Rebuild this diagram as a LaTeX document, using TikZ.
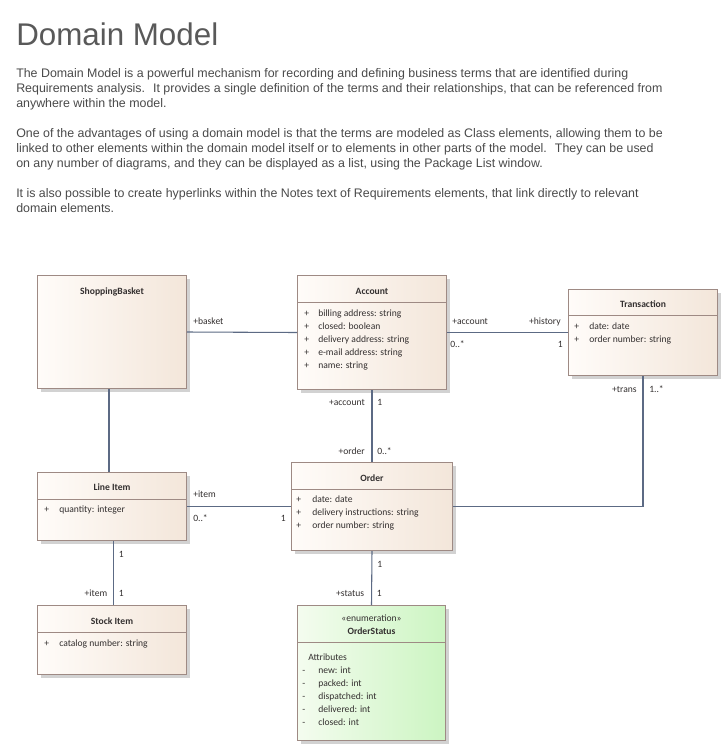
\documentclass[tikz,border=0pt]{standalone}
\usepackage{fontspec}
\setmainfont{Liberation Sans}
\newfontfamily\umlfont{Carlito}
\usetikzlibrary{positioning,calc,shadows}

\definecolor{clsborder}{HTML}{9E8A84}
\definecolor{clsleft}{HTML}{FFFCF9}
\definecolor{clsright}{HTML}{F3E6DA}
\definecolor{enumleft}{HTML}{F4FCEF}
\definecolor{enumright}{HTML}{CCF5C2}
\definecolor{clsshadow}{HTML}{D2D2D2}
\definecolor{assocline}{HTML}{5C6A84}
\definecolor{umltext}{HTML}{343030}
\definecolor{notetext}{HTML}{4A4A4A}
\definecolor{headtext}{HTML}{595959}

\tikzset{
  cls/.style 2 args={draw=clsborder, line width=0.75pt,
    left color=clsleft, right color=clsright,
    minimum width=#1*0.75pt, minimum height=#2*0.75pt,
    anchor=north west, inner sep=0pt,
    drop shadow={shadow xshift=2.4pt, shadow yshift=-2.4pt, fill=clsshadow, opacity=1}},
  enumcls/.style={left color=enumleft, right color=enumright},
  sepline/.style={draw=clsborder, line width=0.75pt},
  assoc/.style={draw=assocline, line width=0.8pt},
  clstitle/.style={font=\umlfont\fontsize{7.2}{9}\selectfont\bfseries, text=umltext, inner sep=0pt, anchor=base},
  attr/.style={font=\umlfont\fontsize{7.2}{9}\selectfont, text=umltext, inner sep=0pt, anchor=base west},
  role/.style={font=\umlfont\fontsize{7.2}{9}\selectfont, text=umltext, inner sep=0pt},
  noteline/.style={font=\fontsize{9.3}{11}\selectfont, text=notetext, inner sep=0pt, anchor=base west}
}

\begin{document}
\begin{tikzpicture}[x=0.75pt,y=-0.75pt]
  \useasboundingbox[fill=white] (0,0) rectangle (727,751);

  % Heading and notes
  \node[font=\fontsize{23.5}{28}\selectfont, text=headtext, inner sep=0pt, anchor=base west] (head) at (16,45) {Domain Model};
  \node[noteline] (n1) at (16,77) {The Domain Model is a powerful mechanism for recording and defining business terms that are identified during};
  \node[noteline] (n2) at (16,92) {Requirements analysis.~ It provides a single definition of the terms and their relationships, that can be referenced from};
  \node[noteline] (n3) at (16,107) {anywhere within the model.};
  \node[noteline] (n4) at (16,137) {One of the advantages of using a domain model is that the terms are modeled as Class elements, allowing them to be};
  \node[noteline] (n5) at (16,152) {linked to other elements within the domain model itself or to elements in other parts of the model.~ They can be used};
  \node[noteline] (n6) at (16,167) {on any number of diagrams, and they can be displayed as a list, using the Package List window.};
  \node[noteline] (n7) at (16,197) {It is also possible to create hyperlinks within the Notes text of Requirements elements, that link directly to relevant};
  \node[noteline] (n8) at (16,212) {domain elements.};

  % Classes
  \node[cls={149}{113}] (basket) at (37,275) {};
  \node[cls={149}{114}] (account) at (297,275) {};
  \node[cls={149}{86}] (trans) at (568,289) {};
  \node[cls={149}{68}] (lineitem) at (37,472) {};
  \node[cls={161}{88}] (order) at (291,462) {};
  \node[cls={149}{69}] (stock) at (37,605) {};
  \node[cls={148}{135}, enumcls] (status) at (297,605) {};

  \coordinate (bsFoot) at ($(basket.south)+(-3,0)$);
  \coordinate (liHead) at ($(lineitem.north)+(-3,0)$);
  \coordinate (liFoot) at ($(lineitem.south)+(1.5,0)$);
  \coordinate (siHead) at ($(stock.north)+(1.5,0)$);

  % Connectors
  \draw[assoc] (basket.east) -- (account.west);
  \draw[assoc] (account.east) -- (trans.west);
  \draw[assoc] (account.south) -- (order.north);
  \draw[assoc] (trans.south) |- (order.east);
  \draw[assoc] (bsFoot) -- (liHead);
  \draw[assoc] (lineitem.east) -- (order.west);
  \draw[assoc] (liFoot) -- (siHead);
  \draw[assoc] (order.south) -- (status.north);

  % Compartment lines
  \draw[sepline] ($(account.north west)+(0,27)$) -- ($(account.north east)+(0,27)$);
  \draw[sepline] ($(trans.north west)+(0,26)$) -- ($(trans.north east)+(0,26)$);
  \draw[sepline] ($(lineitem.north west)+(0,27)$) -- ($(lineitem.north east)+(0,27)$);
  \draw[sepline] ($(order.north west)+(0,27)$) -- ($(order.north east)+(0,27)$);
  \draw[sepline] ($(stock.north west)+(0,27)$) -- ($(stock.north east)+(0,27)$);
  \draw[sepline] ($(status.north west)+(0,37)$) -- ($(status.north east)+(0,37)$);

  % Class names
  \node[clstitle] (basketName) at ($(basket.north)+(0,19)$) {ShoppingBasket};
  \node[clstitle] (accountName) at ($(account.north)+(0,19)$) {Account};
  \node[clstitle] (transName) at ($(trans.north)+(0,18)$) {Transaction};
  \node[clstitle] (orderName) at ($(order.north)+(0,19)$) {Order};
  \node[clstitle] (lineitemName) at ($(lineitem.north)+(0,18)$) {Line Item};
  \node[clstitle] (stockName) at ($(stock.north)+(0,19)$) {Stock Item};
  \node[clstitle, font=\umlfont\fontsize{7.2}{9}\selectfont] (statusStereo) at ($(status.north)+(0,16)$) {«enumeration»};
  \node[clstitle] (statusName) at ($(status.north)+(0,29)$) {OrderStatus};

  % Attributes
  \foreach \a [count=\i from 0] in {billing address: string, closed: boolean, delivery address: string, e-mail address: string, name: string}{
    \node[attr] at (304,{316+13*\i}) {+};
    \node[attr] at (318,{316+13*\i}) {\a};
  }
  \foreach \a [count=\i from 0] in {date: date, order number: string}{
    \node[attr] at (574,{329+13*\i}) {+};
    \node[attr] at (589,{329+13*\i}) {\a};
  }
  \foreach \a [count=\i from 0] in {date: date, delivery instructions: string, order number: string}{
    \node[attr] at (296,{502+13*\i}) {+};
    \node[attr] at (312,{502+13*\i}) {\a};
  }
  \node[attr] at (44,512) {+};
  \node[attr] at (59,512) {quantity: integer};
  \node[attr] at (44,646) {+};
  \node[attr] at (59,646) {catalog number: string};
  \node[attr] at (308,660) {Attributes};
  \foreach \a [count=\i from 0] in {new: int, packed: int, dispatched: int, delivered: int, closed: int}{
    \node[attr] at (302,{673+13*\i}) {-};
    \node[attr] at (318,{673+13*\i}) {\a};
  }

  % Role names and multiplicities
  \node[role, anchor=base west] at ($(basket.east)+(6,-8)$) {+basket};
  \node[role, anchor=base west] at ($(account.east)+(5,-8)$) {+account};
  \node[role, anchor=base west] at ($(account.east)+(3,15)$) {0..*};
  \node[role, anchor=base east] at ($(trans.west)+(-7,-8)$) {+history};
  \node[role, anchor=base east] at ($(trans.west)+(-5,15)$) {1};
  \node[role, anchor=base east] at ($(account.south)+(-7,15)$) {+account};
  \node[role, anchor=base west] at ($(account.south)+(5,15)$) {1};
  \node[role, anchor=base east] at ($(order.north)+(-7,-8)$) {+order};
  \node[role, anchor=base west] at ($(order.north)+(5,-8)$) {0..*};
  \node[role, anchor=base east] at ($(trans.south)+(-6,16)$) {+trans};
  \node[role, anchor=base west] at ($(trans.south)+(6,16)$) {1..*};
  \node[role, anchor=base west] at ($(lineitem.east)+(6,-9)$) {+item};
  \node[role, anchor=base west] at ($(lineitem.east)+(6,15)$) {0..*};
  \node[role, anchor=base east] at ($(order.west)+(-5,15)$) {1};
  \node[role, anchor=base west] at ($(liFoot)+(5,16)$) {1};
  \node[role, anchor=base east] at ($(siHead)+(-6,-9)$) {+item};
  \node[role, anchor=base west] at ($(siHead)+(5,-9)$) {1};
  \node[role, anchor=base west] at ($(order.south)+(5,16)$) {1};
  \node[role, anchor=base east] at ($(status.north)+(-7,-9)$) {+status};
  \node[role, anchor=base west] at ($(status.north)+(5,-9)$) {1};
\end{tikzpicture}
\end{document}
